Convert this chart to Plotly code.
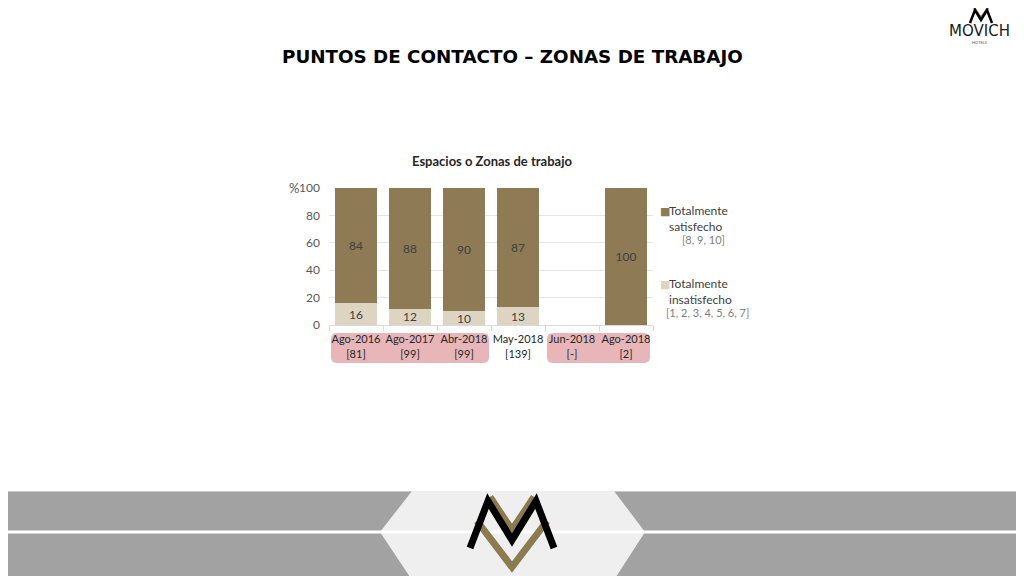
import plotly.graph_objects as go

categories = ["Ago-2016<br>[81]", "Ago-2017<br>[99]", "Abr-2018<br>[99]",
              "May-2018<br>[139]", "Jun-2018<br>[-]", "Ago-2018<br>[2]"]
insatisfecho = [16, 12, 10, 13, None, 0]
satisfecho = [84, 88, 90, 87, None, 100]
ins_text = ["16", "12", "10", "13", "", ""]
sat_text = ["84", "88", "90", "87", "", "100"]
y_ticks = [0, 20, 40, 60, 80, 100]

DARK = "#8E7A55"
LIGHT = "#DDD4C2"
FONT = "Lato"

# page is rendered with an 8px body margin -> figure is 8px smaller
OFF = 8
W, H = 1024, 576
L, R, T, B = 329, 653, 188, 325  # plot area in page pixels


def X(px):
    return (px - L) / (R - L)


def Y(py):
    return (B - py) / (B - T)


fig = go.Figure()
fig.add_trace(go.Bar(x=categories, y=insatisfecho, name="Totalmente insatisfecho",
                     marker=dict(color=LIGHT, line=dict(width=0)),
                     text=ins_text, textposition="inside", insidetextanchor="middle",
                     textangle=0, constraintext="none",
                     textfont=dict(color="#404040", size=12, family=FONT)))
fig.add_trace(go.Bar(x=categories, y=satisfecho, name="Totalmente satisfecho",
                     marker=dict(color=DARK, line=dict(width=0)),
                     text=sat_text, textposition="inside", insidetextanchor="middle",
                     textangle=0, constraintext="none",
                     textfont=dict(color="#404040", size=12, family=FONT)))

shapes = []


def path(points, close=True):
    s = "M " + " L ".join(f"{X(a):.5f},{Y(b):.5f}" for a, b in points)
    return s + (" Z" if close else "")


def rrect(x0, y0, x1, y1, r):
    return (f"M {X(x0+r):.5f},{Y(y0):.5f} L {X(x1-r):.5f},{Y(y0):.5f} "
            f"Q {X(x1):.5f},{Y(y0):.5f} {X(x1):.5f},{Y(y0+r):.5f} "
            f"L {X(x1):.5f},{Y(y1-r):.5f} Q {X(x1):.5f},{Y(y1):.5f} {X(x1-r):.5f},{Y(y1):.5f} "
            f"L {X(x0+r):.5f},{Y(y1):.5f} Q {X(x0):.5f},{Y(y1):.5f} {X(x0):.5f},{Y(y1-r):.5f} "
            f"L {X(x0):.5f},{Y(y0+r):.5f} Q {X(x0):.5f},{Y(y0):.5f} {X(x0+r):.5f},{Y(y0):.5f} Z")


# pink highlight boxes behind category labels
for x0, x1 in [(331, 489), (547, 650)]:
    shapes.append(dict(type="path", xref="paper", yref="paper", path=rrect(x0, 333, x1, 363, 6),
                       fillcolor="#E8B6B9", line=dict(width=0), layer="below"))

# bottom decorative band
shapes.append(dict(type="rect", xref="paper", yref="paper", x0=X(0), x1=X(W + 10), y0=Y(491), y1=Y(580),
                   fillcolor="#A2A2A2", line=dict(width=0), layer="below"))
shapes.append(dict(type="line", xref="paper", yref="paper", x0=X(0), x1=X(W + 10), y0=Y(491.5), y1=Y(491.5),
                   line=dict(color="#C8C8C8", width=1), layer="below"))
shapes.append(dict(type="path", xref="paper", yref="paper",
                   path=path([(412, 491), (614, 491), (645, 532), (614, 580), (412, 580), (380, 532)]),
                   fillcolor="#EFEFEF", line=dict(width=0), layer="below"))
shapes.append(dict(type="line", xref="paper", yref="paper", x0=X(0), x1=X(W + 10), y0=Y(532), y1=Y(532),
                   line=dict(color="white", width=3), layer="below"))

# logo (bottom center)
GOLD = "#8B7B4F"
shapes.append(dict(type="path", xref="paper", yref="paper",
                   path=path([(490, 497), (512, 530), (534, 497)], close=False),
                   line=dict(color=GOLD, width=7), layer="above"))
shapes.append(dict(type="path", xref="paper", yref="paper",
                   path=path([(477, 521), (512, 567), (547, 521)], close=False),
                   line=dict(color=GOLD, width=7), layer="above"))
shapes.append(dict(type="path", xref="paper", yref="paper",
                   path=path([(470, 548), (488, 501), (512, 540), (536, 501), (554, 548)], close=False),
                   line=dict(color="black", width=7), layer="above"))

# logo (top right)
shapes.append(dict(type="path", xref="paper", yref="paper",
                   path=path([(974, 8), (981, 18), (988, 8)], close=False),
                   line=dict(color=GOLD, width=2.5), layer="above"))
shapes.append(dict(type="path", xref="paper", yref="paper",
                   path=path([(970, 23), (975, 10), (981, 20), (987, 10), (992, 23)], close=False),
                   line=dict(color="black", width=2.5), layer="above"))

annotations = [
    dict(text="<b>PUNTOS DE CONTACTO – ZONAS DE TRABAJO</b>", x=X(512), y=Y(56),
         xref="paper", yref="paper", showarrow=False, xanchor="center", yanchor="middle",
         font=dict(family="DejaVu Sans", size=18.3, color="#000000")),
    dict(text="<b>Espacios o Zonas de trabajo</b>", x=X(492), y=Y(161),
         xref="paper", yref="paper", showarrow=False, xanchor="center", yanchor="middle",
         font=dict(family=FONT, size=13, color="#262626")),
    dict(text="%", x=X(294), y=Y(188), xref="paper", yref="paper", showarrow=False,
         xanchor="center", yanchor="middle", font=dict(family=FONT, size=13, color="#595959")),
    dict(text="MOVICH", x=X(980), y=Y(31), xref="paper", yref="paper", showarrow=False,
         xanchor="center", yanchor="middle", font=dict(family="DejaVu Sans", size=15, color="#1a1a1a")),
    dict(text="HOTELS", x=X(980), y=Y(42), xref="paper", yref="paper", showarrow=False,
         xanchor="center", yanchor="middle", font=dict(family=FONT, size=4, color="#555555")),
    # legend
    dict(text="■", x=X(658), y=Y(211), xref="paper", yref="paper", showarrow=False,
         xanchor="left", yanchor="middle", font=dict(family="DejaVu Sans", size=11, color=DARK)),
    dict(text="Totalmente<br>satisfecho", x=X(667), y=Y(218), xref="paper", yref="paper",
         showarrow=False, xanchor="left", yanchor="middle", align="left",
         font=dict(family=FONT, size=12, color="#404040")),
    dict(text="[8, 9, 10]", x=X(680), y=Y(239), xref="paper", yref="paper", showarrow=False,
         xanchor="left", yanchor="middle", font=dict(family=FONT, size=11, color="#7F7F7F")),
    dict(text="■", x=X(658), y=Y(284), xref="paper", yref="paper", showarrow=False,
         xanchor="left", yanchor="middle", font=dict(family="DejaVu Sans", size=11, color=LIGHT)),
    dict(text="Totalmente<br>insatisfecho", x=X(667), y=Y(291), xref="paper", yref="paper",
         showarrow=False, xanchor="left", yanchor="middle", align="left",
         font=dict(family=FONT, size=12, color="#404040")),
    dict(text="[1, 2, 3, 4, 5, 6, 7]", x=X(664), y=Y(312), xref="paper", yref="paper",
         showarrow=False, xanchor="left", yanchor="middle",
         font=dict(family=FONT, size=11, color="#7F7F7F")),
]

fig.update_layout(
    width=W - OFF, height=H - OFF, barmode="stack", bargap=0.22,
    margin=dict(l=L - OFF, r=W - R, t=T - OFF, b=H - B, pad=0),
    paper_bgcolor="white", plot_bgcolor="white", showlegend=False,
    shapes=shapes, annotations=annotations,
    uniformtext=dict(minsize=12, mode="show"),
    font=dict(family=FONT, color="#404040"),
    xaxis=dict(type="category", showgrid=False, showline=True, linecolor="#D9D9D9", linewidth=1,
               ticks="outside", tickson="boundaries", ticklen=5, tickcolor="#D9D9D9",
               ticklabelstandoff=4,
               tickangle=0, tickfont=dict(family=FONT, size=11, color="#262626"), fixedrange=True),
    yaxis=dict(range=[0, 100], tickvals=y_ticks, showgrid=True, gridcolor="#E6E6E6", gridwidth=1,
               zeroline=False, showline=False, ticks="", ticklabelstandoff=8,
               tickfont=dict(family=FONT, size=12, color="#595959"), fixedrange=True),
)

fig.write_html("out.html")
